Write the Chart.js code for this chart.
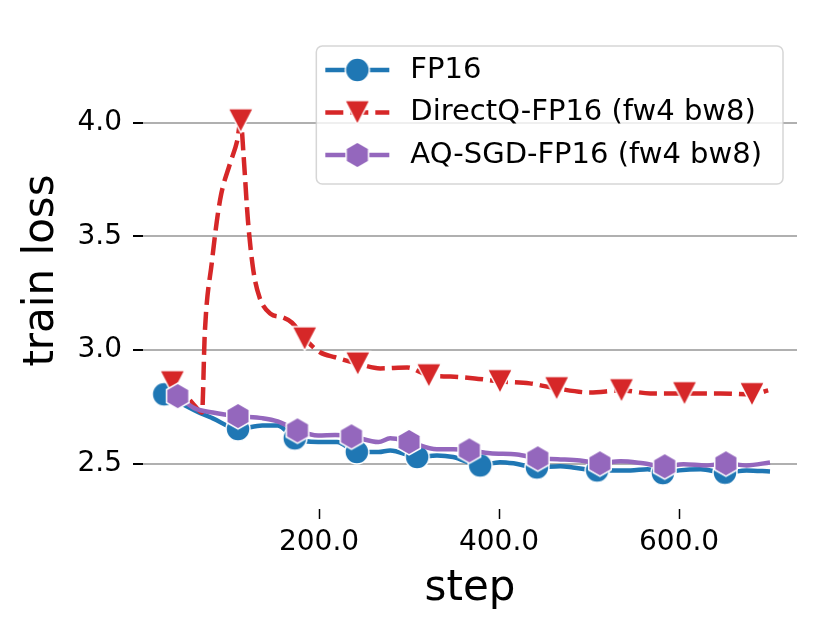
<!DOCTYPE html>
<html>
<head>
<title>train loss vs step</title>
<script src="https://cdn.jsdelivr.net/npm/chart.js@4.4.0/dist/chart.umd.min.js"></script>
<style>
body { margin: 0; background: #fff; }
#wrap { width: 829px; height: 634px; }
</style>
</head>
<body>
<div id="wrap"><canvas id="loss"></canvas></div>
<script>
// values
var fp16Steps = [28, 62, 82, 110, 137, 154, 173, 199, 220, 242, 266, 279, 309, 331, 349, 379, 401, 416, 442, 468, 482, 509, 546, 565, 582, 600, 624, 651, 675, 701];
var fp16Loss  = [2.805, 2.734, 2.699, 2.652, 2.668, 2.668, 2.611, 2.595, 2.595, 2.551, 2.551, 2.558, 2.529, 2.536, 2.529, 2.492, 2.506, 2.501, 2.483, 2.488, 2.483, 2.470, 2.470, 2.475, 2.458, 2.470, 2.475, 2.460, 2.470, 2.465];
var fp16Marks = [0, 3, 6, 9, 12, 15, 18, 21, 24, 27];

var directSteps = [37, 52, 63, 70, 73, 81, 90, 101, 109, 113, 116, 121, 127, 134, 146, 160, 170, 184, 201, 218, 243, 268, 298, 322, 346, 373, 401, 434, 464, 501, 536, 568, 606, 646, 681, 699];
var directLoss  = [2.857, 2.80, 2.75, 2.725, 3.07, 3.39, 3.66, 3.82, 3.92, 4.01, 3.865, 3.57, 3.35, 3.23, 3.16, 3.143, 3.12, 3.05, 2.99, 2.968, 2.94, 2.919, 2.923, 2.888, 2.883, 2.875, 2.862, 2.853, 2.831, 2.813, 2.822, 2.809, 2.809, 2.809, 2.805, 2.822];
var directMarks = [0, 9, 17, 20, 23, 26, 28, 30, 32, 34];

var aqSteps = [43, 62, 82, 110, 137, 154, 176, 199, 218, 236, 266, 279, 300, 331, 349, 367, 390, 420, 443, 465, 490, 512, 535, 560, 584, 605, 630, 652, 675, 701];
var aqLoss  = [2.797, 2.743, 2.725, 2.709, 2.700, 2.686, 2.646, 2.624, 2.626, 2.620, 2.595, 2.611, 2.595, 2.563, 2.563, 2.558, 2.545, 2.540, 2.523, 2.519, 2.514, 2.501, 2.510, 2.501, 2.488, 2.497, 2.492, 2.501, 2.492, 2.505];
var aqMarks = [0, 3, 6, 9, 12, 15, 18, 21, 24, 27];

var stepTicks = [200, 400, 600];
var lossTicks = [2.5, 3.0, 3.5, 4.0];

var FONT = '"DejaVu Sans", sans-serif';

function marker(kind, color) {
  var c = document.createElement('canvas');
  c.width = 32; c.height = 32;
  var g = c.getContext('2d');
  g.translate(16, 16);
  g.beginPath();
  if (kind == 'circle') {
    g.arc(0, 0, 12, 0, 2 * Math.PI);
  } else if (kind == 'tri') {
    g.moveTo(-12.5, -12); g.lineTo(12.5, -12); g.lineTo(0, 12); g.closePath();
  } else {
    for (var i = 0; i < 6; i++) {
      var a = Math.PI / 3 * i;
      var px = 13 * Math.sin(a), py = -13 * Math.cos(a);
      if (i) g.lineTo(px, py); else g.moveTo(px, py);
    }
    g.closePath();
  }
  g.fillStyle = color; g.fill();
  g.lineWidth = 1.5; g.strokeStyle = '#fff'; g.stroke();
  return c;
}

function series(label, steps, loss, marks, color, kind, dash, order) {
  return {
    label: label,
    data: steps.map(function (s, i) { return {x: s, y: loss[i]}; }),
    borderColor: color,
    backgroundColor: color,
    borderWidth: 4.5,
    borderDash: dash,
    borderCapStyle: 'butt',
    borderJoinStyle: 'round',
    cubicInterpolationMode: 'monotone',
    pointStyle: marker(kind, color),
    pointRadius: function (ctx) { return marks.indexOf(ctx.dataIndex) >= 0 ? 12 : 0; },
    pointHoverRadius: 0,
    order: order,
    fill: false
  };
}

var legendBox = {
  id: 'legendBox',
  afterDraw: function (chart) {
    var ctx = chart.ctx, a = chart.chartArea;
    var sets = chart.data.datasets;
    ctx.save();
    ctx.font = '29px ' + FONT;
    var tw = 0;
    sets.forEach(function (d) { tw = Math.max(tw, ctx.measureText(d.label).width); });
    var w = 94 + tw + 21, h = 138;
    var x0 = a.right - 14 - w, y0 = a.top + 14;
    ctx.beginPath();
    ctx.roundRect(x0, y0, w, h, 6);
    ctx.fillStyle = 'rgba(255,255,255,0.8)';
    ctx.fill();
    ctx.lineWidth = 1.5;
    ctx.strokeStyle = 'rgba(204,204,204,0.8)';
    ctx.stroke();
    sets.forEach(function (d, i) {
      var y = y0 + 24 + 42.5 * i;
      ctx.beginPath();
      ctx.setLineDash(d.borderDash || []);
      ctx.lineWidth = d.borderWidth;
      ctx.strokeStyle = d.borderColor;
      ctx.lineCap = 'butt';
      ctx.moveTo(x0 + 9, y);
      ctx.lineTo(x0 + 73, y);
      ctx.stroke();
      ctx.setLineDash([]);
      ctx.drawImage(d.pointStyle, x0 + 41 - 16, y - 16);
      ctx.fillStyle = '#000';
      ctx.textBaseline = 'middle';
      ctx.textAlign = 'left';
      ctx.fillText(d.label, x0 + 94, y);
    });
    ctx.restore();
  }
};

new Chart(document.getElementById('loss'), {
  type: 'line',
  data: {
    datasets: [
      series('FP16', fp16Steps, fp16Loss, fp16Marks, '#1f77b4', 'circle', [], 3),
      series('DirectQ-FP16 (fw4 bw8)', directSteps, directLoss, directMarks, '#d62728', 'tri', [18, 7], 2),
      series('AQ-SGD-FP16 (fw4 bw8)', aqSteps, aqLoss, aqMarks, '#9467bd', 'hex', [], 1)
    ]
  },
  options: {
    responsive: true,
    maintainAspectRatio: false,
    animation: false,
    layout: { padding: { top: 32, right: 32, left: 0, bottom: 0 } },
    plugins: { legend: { display: false }, tooltip: { enabled: false } },
    scales: {
      x: {
        type: 'linear',
        min: 4.4,
        max: 731,
        afterBuildTicks: function (s) { s.ticks = stepTicks.map(function (v) { return {value: v}; }); },
        afterFit: function (s) { s.height = 125; },
        border: { display: false },
        grid: { drawOnChartArea: false, drawTicks: true, tickLength: 10, tickColor: '#000', tickWidth: 1.5 },
        ticks: {
          color: '#000', padding: 7, maxRotation: 0,
          font: { family: FONT, size: 28 },
          callback: function (v) { return Number(v).toFixed(1); }
        },
        title: { display: true, text: 'step', color: '#000', font: { family: FONT, size: 42 }, padding: { top: 0, bottom: 20 } }
      },
      y: {
        min: 2.3,
        max: 4.4,
        afterBuildTicks: function (s) { s.ticks = lossTicks.map(function (v) { return {value: v}; }); },
        afterFit: function (s) { s.width = 143; },
        border: { display: false },
        grid: { color: '#b0b0b0', lineWidth: 2, drawTicks: true, tickLength: 10, tickColor: '#000', tickWidth: 2 },
        ticks: {
          color: '#000', padding: 11,
          font: { family: FONT, size: 28 },
          callback: function (v) { return Number(v).toFixed(1); }
        },
        title: { display: true, text: 'train loss', color: '#000', font: { family: FONT, size: 42 }, padding: { top: 17, bottom: 0 } }
      }
    }
  },
  plugins: [legendBox]
});
</script>
</body>
</html>
